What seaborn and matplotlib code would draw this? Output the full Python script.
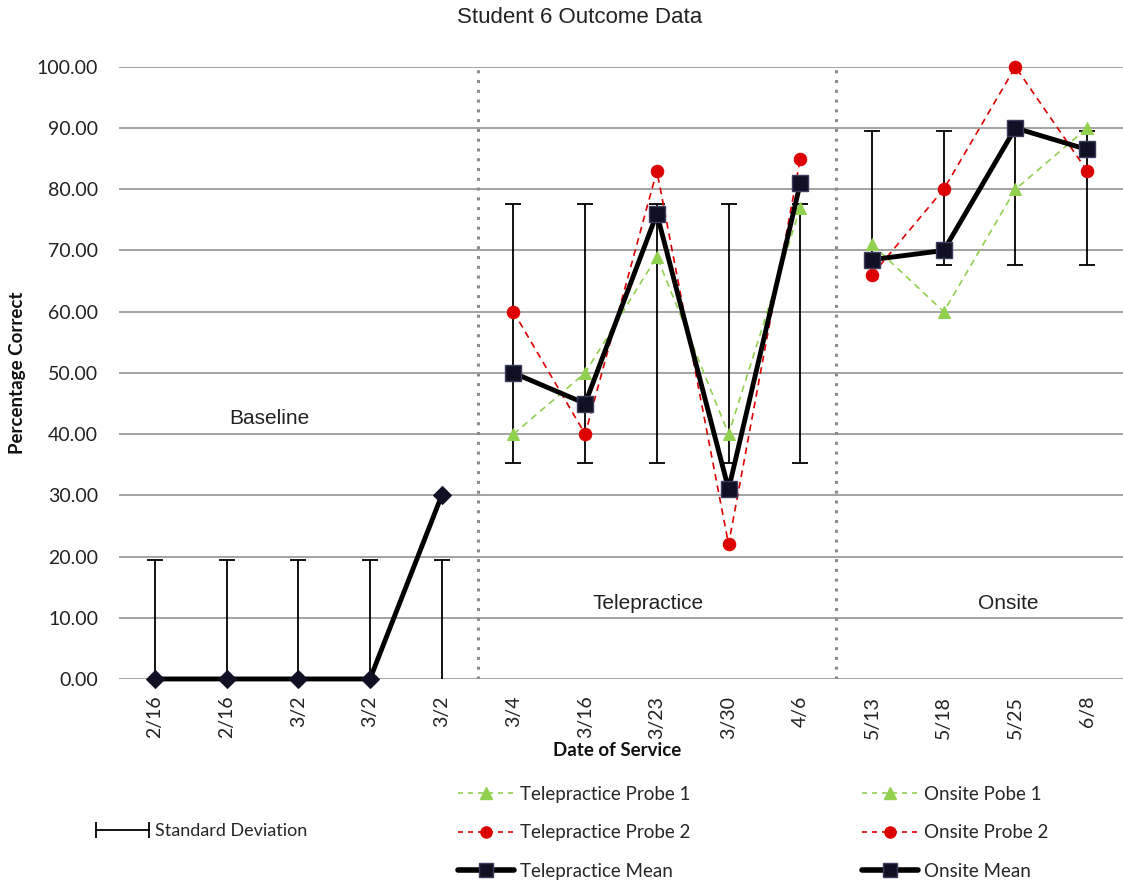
import numpy as np
import pandas as pd
import matplotlib
matplotlib.use("Agg")
import matplotlib.pyplot as plt
import seaborn as sns
from matplotlib.lines import Line2D

# ---- data ----
dates = ["2/16", "2/16", "3/2", "3/2", "3/2",
         "3/4", "3/16", "3/23", "3/30", "4/6",
         "5/13", "5/18", "5/25", "6/8"]

baseline_mean = [0, 0, 0, 0, 30]
baseline_sd_low = [-7.4, -7.4, -7.4, -7.4, -7.4]
baseline_sd_high = [19.4, 19.4, 19.4, 19.4, 19.4]

tele_probe1 = [40, 50, 69, 40, 77]
tele_probe2 = [60, 40, 83, 22, 85]
tele_mean = [50, 45, 76, 31, 81]
tele_sd_low = [35.3, 35.3, 35.3, 35.3, 35.3]
tele_sd_high = [77.6, 77.6, 77.6, 77.6, 77.6]

onsite_probe1 = [71, 60, 80, 90]
onsite_probe2 = [66, 80, 100, 83]
onsite_mean = [68.5, 70, 90, 86.5]
onsite_sd_low = [67.6, 67.6, 67.6, 67.6]
onsite_sd_high = [89.6, 89.6, 89.6, 89.6]

phase_labels = ["Baseline", "Telepractice", "Onsite"]
y_ticks = [0, 10, 20, 30, 40, 50, 60, 70, 80, 90, 100]

# ---- styling ----
sns.set_theme(style="white")
plt.rcParams["font.family"] = ["Lato", "DejaVu Sans"]

GREEN = "#92d050"
RED = "#dc0000"
BLACK = "#000000"
NAVY = "#101024"
GRID = "#8a8a8a"

fig = plt.figure(figsize=(11.23, 8.82), dpi=100)
ax = fig.add_axes([0.106, 0.2302, 0.894, 0.694])

pos = np.arange(len(dates))
idx_base = pos[0:5]
idx_tele = pos[5:10]
idx_onsite = pos[10:14]

# long-form table of every plotted series
frames = []
def add(name, x, y):
    frames.append(pd.DataFrame({"pos": x, "value": y, "series": name}))

add("Baseline Mean", idx_base, baseline_mean)
add("Telepractice Probe 1", idx_tele, tele_probe1)
add("Telepractice Probe 2", idx_tele, tele_probe2)
add("Telepractice Mean", idx_tele, tele_mean)
add("Onsite Pobe 1", idx_onsite, onsite_probe1)
add("Onsite Probe 2", idx_onsite, onsite_probe2)
add("Onsite Mean", idx_onsite, onsite_mean)
df = pd.concat(frames, ignore_index=True)

# standard-deviation bars
def sd_bars(x, low, high):
    low = np.asarray(low, float)
    high = np.asarray(high, float)
    center = (low + high) / 2
    yerr = [center - low, high - center]
    ax.errorbar(x, center, yerr=yerr, fmt="none", ecolor=BLACK,
                elinewidth=1.3, capsize=6, capthick=1.3, zorder=2)

sd_bars(idx_base, baseline_sd_low, baseline_sd_high)
sd_bars(idx_tele, tele_sd_low, tele_sd_high)
sd_bars(idx_onsite, onsite_sd_low, onsite_sd_high)

probe1_kw = dict(color=GREEN, linewidth=1.2, dashes=(4, 3), marker="^",
                 markersize=9, markerfacecolor=GREEN, markeredgecolor=GREEN)
probe2_kw = dict(color=RED, linewidth=1.2, dashes=(4, 3), marker="o",
                 markersize=9, markerfacecolor=RED, markeredgecolor=RED)
mean_kw = dict(color=BLACK, linewidth=3.5, marker="s", markersize=11.5,
               markerfacecolor=NAVY, markeredgecolor="#3c3c5c", markeredgewidth=1)

def draw(name, z, clip=True, **kw):
    sub = df[df["series"] == name]
    dashes = kw.pop("dashes", None)
    sns.lineplot(data=sub, x="pos", y="value", ax=ax, legend=False,
                 zorder=z, **kw)
    line = ax.lines[-1]
    if dashes is not None:
        line.set_dashes(dashes)
    line.set_clip_on(clip)

draw("Baseline Mean", 5, clip=False, color=BLACK, linewidth=3.5, marker="D",
     markersize=9, markerfacecolor=NAVY, markeredgecolor=NAVY)
draw("Telepractice Probe 1", 3, **dict(probe1_kw))
draw("Telepractice Probe 2", 3, **dict(probe2_kw))
draw("Telepractice Mean", 5, **dict(mean_kw))
draw("Onsite Pobe 1", 3, **dict(probe1_kw))
draw("Onsite Probe 2", 3, clip=False, **dict(probe2_kw))
draw("Onsite Mean", 5, **dict(mean_kw))

# phase separators
for xb in (4.5, 9.5):
    ax.axvline(xb, color="#8c8c8c", linestyle=(0, (1, 2.2)), linewidth=2.2, zorder=1)

# axes
ax.set_xlim(-0.5, len(dates) - 0.5)
ax.set_ylim(0, 100)
ax.set_yticks(y_ticks)
ax.set_yticklabels([f"{v:.2f}" for v in y_ticks], fontsize=14, color="#222222")
ax.set_xticks(pos)
ax.set_xticklabels(dates, rotation=90, fontsize=14, color="#222222")
ax.tick_params(axis="both", length=0)
ax.tick_params(axis="y", pad=15)
ax.tick_params(axis="x", pad=12)
ax.yaxis.grid(True, color=GRID, linewidth=1.1)
ax.xaxis.grid(False)
ax.set_axisbelow(True)
for s in ax.spines.values():
    s.set_visible(False)

ax.set_xlabel("Date of Service", fontsize=13.5, fontweight="bold", color="#111111")
ax.set_ylabel("Percentage Correct", fontsize=13.5, fontweight="bold", color="#111111")
ax.xaxis.set_label_coords(0.496, -0.103)
ax.yaxis.set_label_coords(-0.093, 0.5)

# phase names
ann_font = dict(family=["Liberation Sans", "DejaVu Sans"], fontsize=15, color="#222222",
                ha="center", va="center")
ax.text(1.6, 42.6, phase_labels[0], **ann_font)
ax.text(6.88, 12.4, phase_labels[1], **ann_font)
ax.text(11.9, 12.4, phase_labels[2], **ann_font)

fig.text(0.516, 0.98, "Student 6 Outcome Data", family=["Liberation Sans", "DejaVu Sans"],
         fontsize=16, color="#222222", ha="center", va="center")

# legends
def h_probe1():
    return Line2D([0], [0], color=GREEN, linewidth=1.2, dashes=(3, 3), marker="^",
                  markersize=9, markerfacecolor=GREEN, markeredgecolor=GREEN)

def h_probe2():
    return Line2D([0], [0], color=RED, linewidth=1.2, dashes=(3, 3), marker="o",
                  markersize=8, markerfacecolor=RED, markeredgecolor=RED)

def h_mean():
    return Line2D([0], [0], color=BLACK, linewidth=4, marker="s", markersize=10,
                  markerfacecolor=NAVY, markeredgecolor="#3c3c5c")

leg_kw = dict(frameon=False, fontsize=13.5, handlelength=3.0, handletextpad=0.3,
              labelspacing=1.15, borderpad=0, borderaxespad=0, numpoints=1,
              loc="upper left")

fig.legend([h_probe1(), h_probe2(), h_mean()],
           ["Telepractice Probe 1", "Telepractice Probe 2", "Telepractice Mean"],
           bbox_to_anchor=(0.408, 0.109), **leg_kw)
fig.legend([h_probe1(), h_probe2(), h_mean()],
           ["Onsite Pobe 1", "Onsite Probe 2", "Onsite Mean"],
           bbox_to_anchor=(0.7676, 0.109), **leg_kw)

sd_handle = Line2D([0], [0], color=BLACK, linewidth=1.3, marker="|", markersize=11,
                   markeredgewidth=1.3)
fig.legend([sd_handle], ["Standard Deviation"], frameon=False, fontsize=13,
           handlelength=3.5, handletextpad=0.05, numpoints=2, borderpad=0,
           borderaxespad=0, loc="center left", bbox_to_anchor=(0.081, 0.0578))

fig.savefig("out.png", dpi=100)
